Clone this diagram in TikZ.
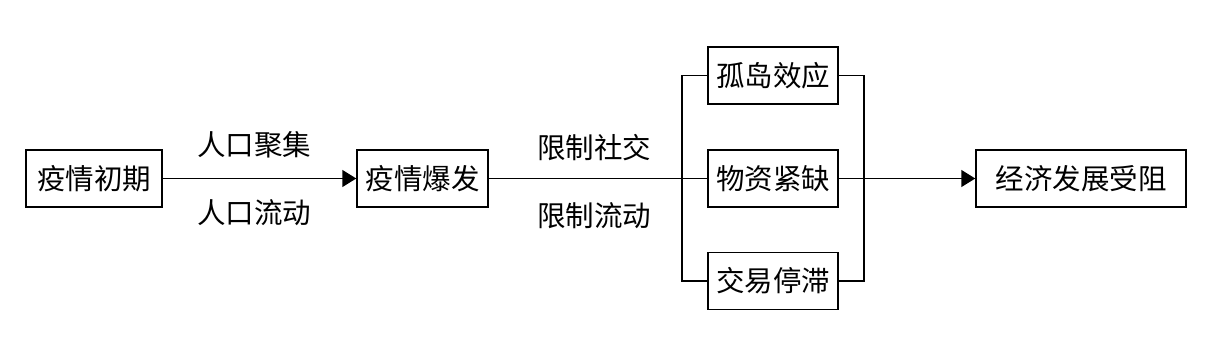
\documentclass[tikz,border=0pt]{standalone}
\usepackage{fontspec}
\setmainfont{Noto Sans CJK SC}[BoldFont={Noto Sans CJK SC}]
\usetikzlibrary{arrows.meta}
\tikzset{
  box/.style={draw, line width=1.5pt, minimum height=57pt, inner sep=0pt, font=\fontsize{28.5}{30}\selectfont},
  lbl/.style={inner sep=0pt, font=\fontsize{28.5}{30}\selectfont},
  conn/.style={line width=1.5pt},
  arr/.style={conn, -{Triangle[length=14pt,width=17pt]}}
}
\begin{document}
\begin{tikzpicture}[x=1pt,y=-1pt]
\useasboundingbox (0,0) rectangle (1223,363);
\node[box, minimum width=136pt] (a) at (94,178.5) {疫情初期};
\node[box, minimum width=131pt] (b) at (422.5,178.5) {疫情爆发};
\node[box, minimum width=130pt] (c1) at (773,75.5) {孤岛效应};
\node[box, minimum width=130pt] (c2) at (773,178.5) {物资紧缺};
\node[box, minimum width=130pt] (c3) at (773,281) {交易停滞};
\node[box, minimum width=210pt] (d) at (1081,178.5) {经济发展受阻};
\node[lbl] (l1) at (254,145) {人口聚集};
\node[lbl] (l2) at (254,213) {人口流动};
\node[lbl] (l3) at (594,148) {限制社交};
\node[lbl] (l4) at (594,216) {限制流动};
\coordinate (jl) at (682,178.5);
\coordinate (jr) at (864,178.5);
\draw[arr] (a.east) -- (b.west);
\draw[conn] (b.east) -- (c2.west);
\draw[conn] (c1.west) -| (jl) |- (c3.west);
\draw[conn] (c1.east) -| (jr) |- (c3.east);
\draw[arr] (c2.east) -- (d.west);
\end{tikzpicture}
\end{document}
